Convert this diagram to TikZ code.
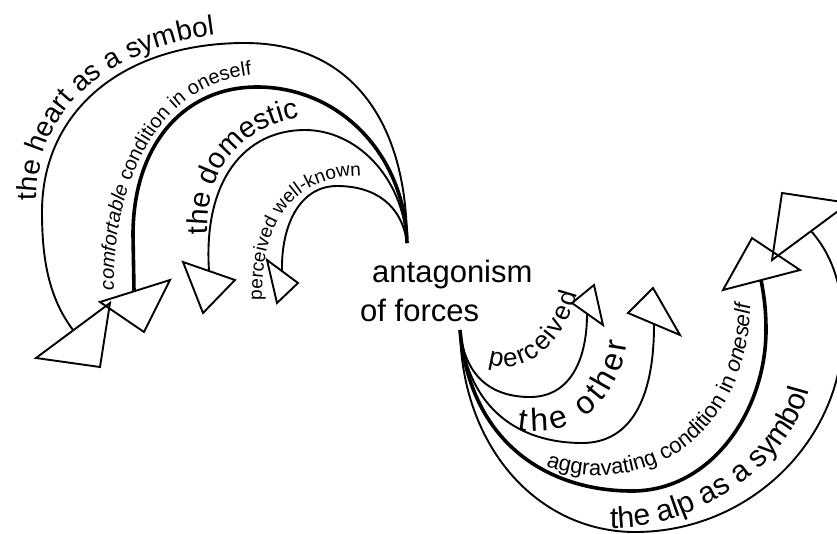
\documentclass[tikz,border=0pt]{standalone}
\usepackage{fontspec}
\setmainfont{Liberation Sans}
\usetikzlibrary{decorations.text}

\newcommand\lblsize[1]{\fontsize{#1}{#1}\selectfont}

\tikzset{
  arc/.style={line width=1.9pt},
  heavyarc/.style={line width=3.6pt},
  head/.style={line width=1.9pt, line join=miter},
  centre/.style={font=\lblsize{31}, inner sep=0pt, anchor=base west},
  curvetext/.style={decorate, decoration={text along path, text align=left, text={#1}}},
  fittext/.style={decorate, decoration={text along path, text align=fit to path, text={#1}}},
}

\begin{document}
\begin{tikzpicture}[x=1pt,y=-1pt]
\useasboundingbox (0,0) rectangle (837,533);
\fill[white] (0,0) rectangle (837,533);
\clip (0,0) rectangle (837,533);

% centre label
\node[centre] (upper) at (372,282) {antagonism};
\node[centre] (lower) at (360,321) {of forces};

% common start points of the two arc bundles
\coordinate (O) at (407,243);
\coordinate (P) at (460,330);

% ---------- upper-left bundle ----------
\draw[arc] (O) .. controls (407,120) and (350,43) .. (245,43)
  .. controls (123,43) and (42,111) .. (42,212)
  .. controls (42,260) and (49,298) .. (73,330);
\draw[head] (36,358) -- (110,303) -- (100,367) -- cycle;

\draw[heavyarc] (O) .. controls (405,155) and (340,87) .. (257,87)
  .. controls (183,87) and (133,146) .. (133,235) -- (134,291);
\draw[head] (100,302) -- (170,280) -- (144,332) -- cycle;

\draw[arc] (O) .. controls (403,175) and (355,130) .. (305,130)
  .. controls (245,130) and (203,180) .. (209,271);
\draw[head] (183,262) -- (235,280) -- (203,313) -- cycle;

\draw[arc] (O) .. controls (402,205) and (375,186) .. (337,186)
  .. controls (300,186) and (281,225) .. (282,271);
\draw[head] (267,260) -- (298,283) -- (277,303) -- cycle;

% labels of the upper-left bundle
\path[curvetext={|\lblsize{28}|the heart as a symbol}]
  (37,200) .. controls (35,110) and (110,38) .. (250,32);
\path[curvetext={|\lblsize{20}\itshape|comfortable |\lblsize{20}|condition in oneself}]
  (114,290) .. controls (112,180) and (160,78) .. (262,74);
\path[curvetext={|\lblsize{29}|the domestic}]
  (208,234) .. controls (205,170) and (240,120) .. (320,115);
\path[curvetext={|\lblsize{19}|perceived well-known}]
  (262,300) .. controls (261,212) and (300,170) .. (380,176);

% ---------- lower-right bundle ----------
\draw[arc] (P) .. controls (465,380) and (495,397) .. (530,397)
  .. controls (570,397) and (587,360) .. (587,314);
\draw[head] (572,303) -- (603,325) -- (594,285) -- cycle;

\draw[arc] (P) .. controls (468,410) and (520,443) .. (582,443)
  .. controls (630,443) and (654,400) .. (654,325);
\draw[head] (628,313) -- (680,335) -- (653,288) -- cycle;

\draw[heavyarc] (P) .. controls (470,445) and (550,491) .. (632,491)
  .. controls (712,491) and (766,410) .. (766,330)
  .. controls (766,310) and (764,295) .. (761,280);
\draw[head] (723,290) -- (800,270) -- (752,238) -- cycle;

\draw[arc] (P) .. controls (462,450) and (540,532) .. (635,532)
  .. controls (750,532) and (843,440) .. (843,330)
  .. controls (843,290) and (834,257) .. (811,231);
\draw[head] (772,260) -- (849,203) -- (782,193) -- cycle;

% labels of the lower-right bundle
\path[fittext={|\lblsize{26}|perceived}]
  (488,364) .. controls (525,377) and (565,345) .. (577,294);
\path[fittext={|\lblsize{32}|the other}]
  (518,430) .. controls (575,440) and (620,400) .. (627,342);
\path[curvetext={|\lblsize{22}|aggravating condition in |\lblsize{22}\itshape|oneself}]
  (546,466) .. controls (640,500) and (756,440) .. (750,290);
\path[curvetext={|\lblsize{30}|the alp as a symbol}]
  (610,528) .. controls (700,530) and (813,455) .. (813,360);
\end{tikzpicture}
\end{document}
